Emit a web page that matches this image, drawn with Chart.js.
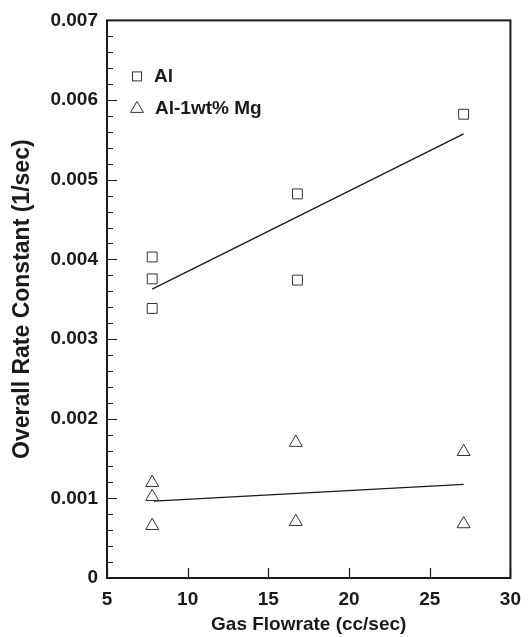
<!DOCTYPE html>
<html lang="en-US">
<head>
  <meta charset="utf-8">
  <title>Overall Rate Constant vs Gas Flowrate</title>
  <script src="https://cdn.jsdelivr.net/npm/chart.js@4/dist/chart.umd.min.js"></script>
  <style>
    html, body { margin: 0; padding: 0; background: #fff; }
    .wrapper { width: 531px; height: 637px; }
  </style>
</head>
<body>
  <div class="wrapper">
    <canvas id="chart-0" width="531" height="637"></canvas>
  </div>

  <script>
    // measured data
    let alFlow = [7.8, 7.8, 7.8, 16.8, 16.8, 27.1];
    let alRate = [0.00403, 0.003755, 0.003384, 0.004822, 0.00374, 0.005822];
    let mgFlow = [7.8, 7.8, 7.8, 16.7, 16.7, 27.1, 27.1];
    let mgRate = [0.001196, 0.00102, 0.000656, 0.0017, 0.000707, 0.001585, 0.000678];

    // fitted lines (end points)
    let alFitFlow = [7.8, 27.1];
    let alFitRate = [0.003626, 0.005575];
    let mgFitFlow = [7.9, 27.1];
    let mgFitRate = [0.000966, 0.001176];

    let xTicks = [5, 10, 15, 20, 25, 30];
    let yTicks = [0, 0.001, 0.002, 0.003, 0.004, 0.005, 0.006, 0.007];

    let ink = '#1a1a1a';
    let font = 'Liberation Sans, Arial, sans-serif';

    function pairs(xs, ys) {
      return xs.map((x, i) => ({x: x, y: ys[i]}));
    }

    function isMajor(v) {
      return yTicks.some(t => Math.abs(t - v) < 1e-9);
    }

    // box round the plot plus inward tick marks
    let frame = {
      id: 'frame',
      afterDraw(chart) {
        let ctx = chart.ctx;
        let a = chart.chartArea;
        let x = chart.scales.x, y = chart.scales.y;
        ctx.save();
        ctx.strokeStyle = ink;
        ctx.lineWidth = 2;
        ctx.strokeRect(a.left, a.top, a.right - a.left, a.bottom - a.top);
        ctx.lineWidth = 1.2;
        ctx.beginPath();
        y.ticks.forEach(t => {
          let py = Math.round(y.getPixelForValue(t.value)) + 0.5;
          let len = isMajor(t.value) ? 10 : 6;
          ctx.moveTo(a.left, py);
          ctx.lineTo(a.left + len, py);
        });
        x.ticks.forEach(t => {
          let px = Math.round(x.getPixelForValue(t.value)) + 0.5;
          ctx.moveTo(px, a.bottom);
          ctx.lineTo(px, a.bottom - 10);
        });
        ctx.stroke();
        ctx.restore();
      }
    };

    // legend drawn inside the plot, top left
    let insideLegend = {
      id: 'insideLegend',
      afterDraw(chart) {
        let ctx = chart.ctx;
        let a = chart.chartArea;
        let sx = a.left + 30;
        ctx.save();
        ctx.strokeStyle = '#333';
        ctx.lineWidth = 1;
        ctx.strokeRect(sx - 4.5, a.top + 51.5, 9, 9);
        ctx.beginPath();
        ctx.moveTo(sx, a.top + 81);
        ctx.lineTo(sx + 6.5, a.top + 92);
        ctx.lineTo(sx - 6.5, a.top + 92);
        ctx.closePath();
        ctx.stroke();
        ctx.fillStyle = ink;
        ctx.font = 'bold 19px ' + font;
        ctx.textBaseline = 'middle';
        ctx.fillText('Al', sx + 17, a.top + 56);
        ctx.fillText('Al-1wt% Mg', sx + 18, a.top + 88);
        ctx.restore();
      }
    };

    let chart = new Chart('chart-0', {
      type: 'scatter',
      data: {
        datasets: [
          {
            label: 'Al',
            data: pairs(alFlow, alRate),
            pointStyle: 'rect',
            pointRadius: 7,
            borderWidth: 1,
            borderColor: '#333',
            backgroundColor: 'rgba(0,0,0,0)'
          },
          {
            label: 'Al-1wt% Mg',
            data: pairs(mgFlow, mgRate),
            pointStyle: 'triangle',
            pointRadius: 7.5,
            borderWidth: 1,
            borderColor: '#333',
            backgroundColor: 'rgba(0,0,0,0)'
          },
          {
            label: 'Al fit',
            type: 'line',
            data: pairs(alFitFlow, alFitRate),
            showLine: true,
            pointRadius: 0,
            borderWidth: 1.3,
            borderColor: ink
          },
          {
            label: 'Al-1wt% Mg fit',
            type: 'line',
            data: pairs(mgFitFlow, mgFitRate),
            showLine: true,
            pointRadius: 0,
            borderWidth: 1.3,
            borderColor: ink
          }
        ]
      },
      options: {
        responsive: false,
        animation: false,
        layout: {
          padding: {top: 20, right: 20, left: 0, bottom: 0}
        },
        plugins: {
          legend: {display: false},
          tooltip: {enabled: false}
        },
        scales: {
          x: {
            type: 'linear',
            min: 5,
            max: 30,
            afterBuildTicks: s => { s.ticks = xTicks.map(v => ({value: v})); },
            grid: {display: false, drawTicks: false, tickLength: 0},
            border: {display: false},
            ticks: {
              color: ink,
              padding: 10,
              maxRotation: 0,
              autoSkip: false,
              font: {family: font, size: 19, weight: 'bold'}
            },
            title: {
              display: true,
              text: 'Gas Flowrate (cc/sec)',
              color: ink,
              padding: {top: 0, bottom: 1},
              font: {family: font, size: 19, weight: 'bold'}
            },
            afterFit: s => { s.height = 59; }
          },
          y: {
            type: 'linear',
            min: 0,
            max: 0.007,
            grid: {display: false, drawTicks: false, tickLength: 0},
            border: {display: false},
            ticks: {
              stepSize: 0.0002,
              color: ink,
              padding: 9,
              autoSkip: false,
              font: {family: font, size: 19, weight: 'bold'},
              callback: v => isMajor(v) ? (v === 0 ? '0' : v.toFixed(3)) : ''
            },
            title: {
              display: true,
              text: 'Overall Rate Constant (1/sec)',
              color: ink,
              padding: {top: 9, bottom: 0},
              font: {family: font, size: 23, weight: 'bold'}
            },
            afterFit: s => { s.width = 107; }
          }
        }
      },
      plugins: [frame, insideLegend]
    });
  </script>
</body>
</html>
